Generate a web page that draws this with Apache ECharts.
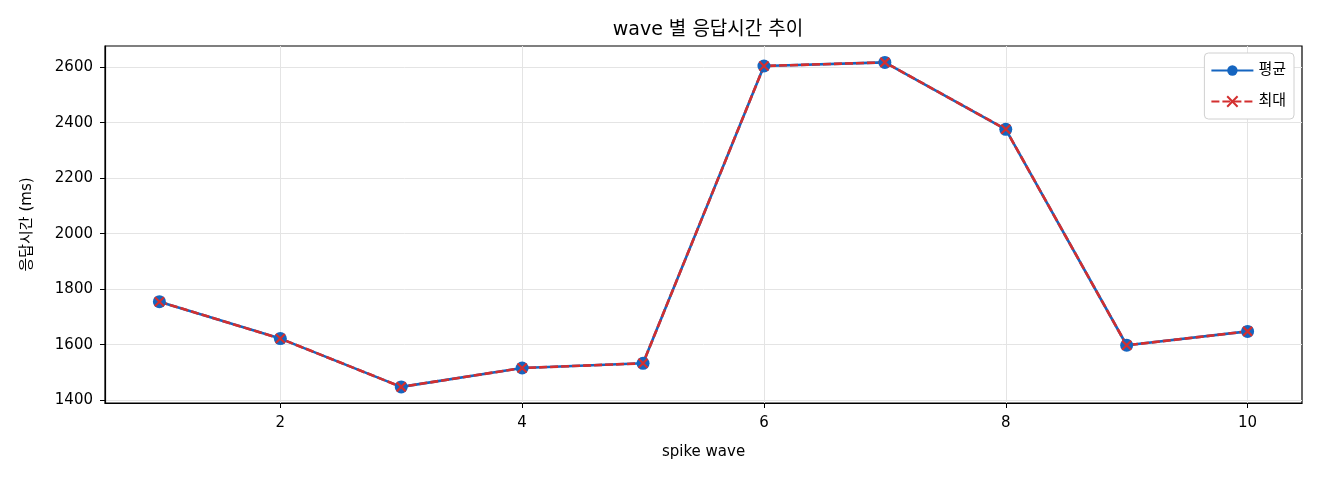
<!DOCTYPE html>
<html><head><meta charset="utf-8">
<script src="https://cdn.jsdelivr.net/npm/echarts@6/dist/echarts.min.js"></script>
<style>html,body{margin:0;padding:0;background:#fff}#c{width:1320px;height:480px}</style>
</head><body><div id="c"></div>
<script>
const waves = [1,2,3,4,5,6,7,8,9,10];
const avgMs = [1755,1622,1448,1516,1533,2604,2617,2376,1598,1648];
const maxMs = [1755,1622,1448,1516,1533,2604,2617,2376,1598,1648];
const xTicks = [2,4,6,8,10];
const yTicks = [1400,1600,1800,2000,2200,2400,2600];

const FONT = '"DejaVu Sans", "Noto Sans CJK KR", sans-serif';
const chart = echarts.init(document.getElementById('c'), null, {renderer:'canvas'});
chart.setOption({
  animation:false,
  textStyle:{fontFamily:FONT},
  title:{text:'wave 별 응답시간 추이', left:703, top:16, textAlign:'center',
    textStyle:{fontFamily:FONT,fontSize:19,fontWeight:'normal',color:'#000'}},
  grid:{left:105,right:18,top:46,bottom:77,containLabel:false,show:true,borderColor:'#000',borderWidth:1.2},
  legend:{right:26,top:53,orient:'vertical',itemWidth:42,itemHeight:13,itemGap:16,
    backgroundColor:'#fff',borderColor:'#d0d0d0',borderWidth:1,borderRadius:4,padding:[10,8,10,6],
    textStyle:{fontFamily:FONT,fontSize:15,color:'#000'},
    data:['평균','최대']},
  xAxis:{type:'value',min:0.55,max:10.45,name:'spike wave',nameLocation:'middle',nameGap:42,
    nameTextStyle:{fontFamily:FONT,fontSize:15,color:'#000'},
    axisLine:{show:true,lineStyle:{color:'#000',width:1.2}},
    axisTick:{show:true,customValues:xTicks,length:5,lineStyle:{color:'#000'}},
    axisLabel:{customValues:xTicks,fontFamily:FONT,fontSize:15,color:'#000',margin:13},
    splitLine:{show:true,lineStyle:{color:'#e4e4e4',width:1}}},
  yAxis:{type:'value',min:1390,max:2676,name:'응답시간 (ms)',nameLocation:'middle',nameGap:70,nameRotate:90,
    nameTextStyle:{fontFamily:FONT,fontSize:15,color:'#000'},
    axisLine:{show:true,lineStyle:{color:'#000',width:1.2}},
    axisTick:{show:true,customValues:yTicks,length:5,lineStyle:{color:'#000'}},
    axisLabel:{customValues:yTicks,formatter:v=>String(v),fontFamily:FONT,fontSize:15,color:'#000',margin:12},
    splitLine:{show:true,lineStyle:{color:'#e4e4e4',width:1}}},
  series:[
    {name:'평균',type:'line',data:waves.map((w,i)=>[w,avgMs[i]]),
     symbol:'circle',symbolSize:13,
     itemStyle:{color:'#1565c0'},lineStyle:{color:'#1565c0',width:2.6}},
    {name:'최대',type:'line',data:waves.map((w,i)=>[w,maxMs[i]]),
     symbol:'path://M0,0L10,10M10,0L0,10',symbolSize:9,
     itemStyle:{color:'#d32f2f',borderColor:'#d32f2f',borderWidth:2.2},
     lineStyle:{color:'#d32f2f',width:2.6,type:[8,3]}}
  ]
});
</script></body></html>
